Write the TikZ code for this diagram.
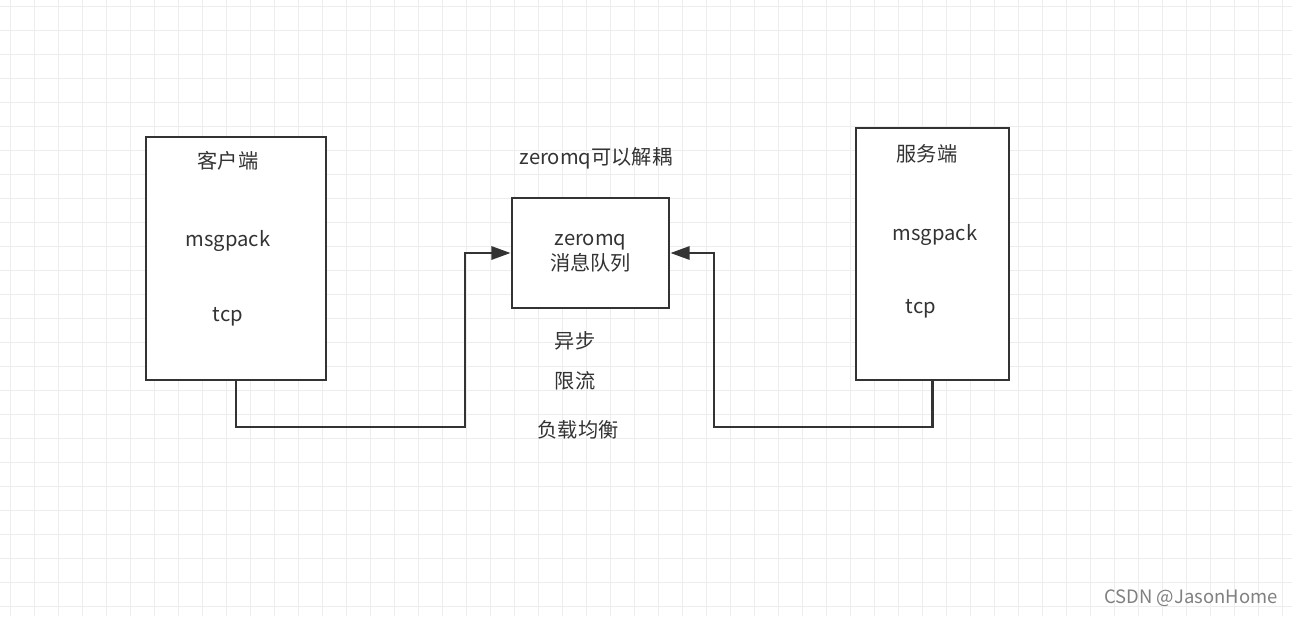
\documentclass[tikz,border=0pt]{standalone}
\usepackage{fontspec}
\setmainfont{Noto Sans CJK SC}
\usetikzlibrary{arrows.meta}
\definecolor{ink}{RGB}{51,51,51}
\definecolor{gridc}{RGB}{237,237,237}
\definecolor{mark}{RGB}{128,128,128}

\tikzset{
  blk/.style={draw=ink, line width=1.6pt, fill=white, inner sep=0pt},
  lbl/.style={text=ink, inner sep=0pt, font=\fontsize{11.5}{14.2}\selectfont},
  wire/.style={draw=ink, line width=1.6pt, -{Triangle[length=11pt,width=7.5pt]}},
}

\begin{document}
\begin{tikzpicture}[x=0.02cm, y=-0.02cm]
        \useasboundingbox (0,0) rectangle (1292,616);
        \fill[white] (0,0) rectangle (1292,616);
        % grid
        \foreach \gx in {10,34,...,1290} \draw[gridc, line width=0.5pt] (\gx,0) -- (\gx,616);
        \foreach \gy in {6,30,...,614} \draw[gridc, line width=0.5pt] (0,\gy) -- (1292,\gy);

        % boxes
        \node[blk, minimum width=3.6cm, minimum height=4.86cm] (client) at (236,258.5) {};
        \node[blk, minimum width=3.06cm, minimum height=5.04cm] (server) at (932.5,254) {};
        \node[blk, lbl, align=center, minimum width=3.14cm, minimum height=2.2cm] (mq) at (590.5,253) {zeromq\\消息队列};

        % texts
        \node[lbl] (clientname) at (228,161) {客户端};
        \node[lbl] (clientmsg) at (228,241) {msgpack};
        \node[lbl] (clienttcp) at (228,317) {tcp};
        \node[lbl] (servername) at (927,154) {服务端};
        \node[lbl] (servermsg) at (935,235) {msgpack};
        \node[lbl] (servertcp) at (921,309) {tcp};
        \node[lbl] (mqtitle) at (596,158) {zeromq可以解耦};
        \node[lbl] (async) at (575,341) {异步};
        \node[lbl] (limit) at (575,381) {限流};
        \node[lbl] (balance) at (578,430) {负载均衡};
        \node[text=mark, inner sep=0pt, font=\fontsize{10.5}{13}\selectfont] (wm) at (1191,598) {CSDN @JasonHome};

        % connectors
        \coordinate (lbend) at (465,427);
        \coordinate (rbend) at (714,427);
        \draw[wire] (client.south) |- (lbend) |- (mq.west);
        \draw[wire] (server.south) |- (rbend) |- (mq.east);
\end{tikzpicture}
\end{document}
